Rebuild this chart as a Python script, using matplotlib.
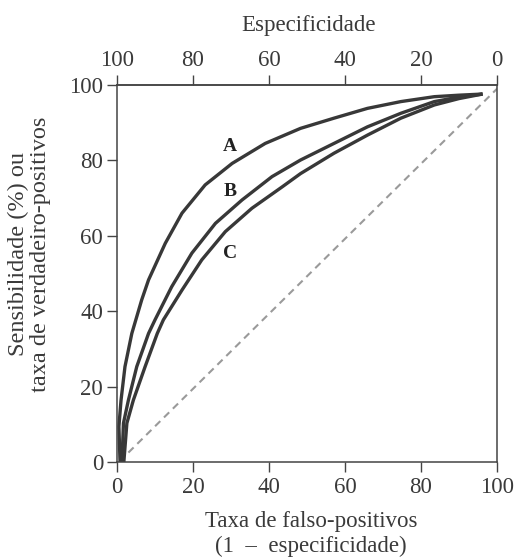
import matplotlib
matplotlib.use("Agg")
import matplotlib.pyplot as plt

# Curve data (x = false-positive rate %, y = sensitivity %)
a_x = [0.8, 0.5, 1.06, 2.1, 3.9, 6.5, 8.3, 12.7, 17.1, 23.2, 30.3, 39.0, 48.3, 57.1, 65.9, 74.7, 83.5, 90.0, 96.2]
a_y = [0.0, 9.4, 16.4, 25.3, 34.1, 43.0, 48.3, 58.0, 66.0, 73.5, 79.2, 84.5, 88.5, 91.2, 93.8, 95.6, 96.9, 97.3, 97.6]

b_x = [1.3, 1.7, 3.0, 5.2, 8.3, 10.0, 14.4, 19.7, 25.9, 32.9, 40.8, 48.3, 57.1, 65.9, 74.7, 83.5, 90.0, 96.2]
b_y = [0.0, 10.3, 16.4, 25.3, 34.1, 37.7, 46.5, 55.4, 63.3, 69.5, 75.7, 80.1, 84.5, 88.9, 92.5, 95.6, 96.8, 97.6]

c_x = [1.8, 2.6, 4.3, 7.4, 10.6, 12.2, 17.1, 22.3, 28.5, 35.5, 43.5, 48.3, 57.1, 65.9, 74.7, 83.5, 90.0, 96.2]
c_y = [0.0, 10.3, 16.4, 25.3, 34.1, 37.7, 45.6, 53.6, 61.1, 67.3, 73.0, 76.5, 81.9, 86.7, 91.2, 94.7, 96.4, 97.6]

diag_x = [3.0, 100.0]
diag_y = [2.5, 99.0]

curve_names = ["A", "B", "C"]
label_x = [29.8, 29.8, 29.8]
label_y = [83.6, 71.7, 55.4]

ticks = [0, 20, 40, 60, 80, 100]
top_ticks = [100, 80, 60, 40, 20, 0]

plt.rcParams["font.family"] = ["Liberation Serif", "DejaVu Serif"]

W, H = 519, 558
fig = plt.figure(figsize=(W / 100, H / 100), dpi=100)
ax = fig.add_axes([117 / W, 1 - 462 / H, 380 / W, 377 / H])

line_col = "#383838"
for xs, ys in [(a_x, a_y), (b_x, b_y), (c_x, c_y)]:
    ax.plot(xs, ys, color=line_col, lw=2.4, solid_capstyle="butt",
            solid_joinstyle="round")

ax.plot(diag_x, diag_y, color="#9a9a9a", lw=1.5, dashes=(3.5, 2.5))

for name, lx, ly in zip(curve_names, label_x, label_y):
    ax.text(lx, ly, name, fontsize=14, fontweight="bold", color="#222222",
            ha="center", va="center")

txt_col = "#3a3a3a"
fs = 16.5
ax.set_xlim(0, 100)
ax.set_ylim(0, 100)
ax.set_xticks(ticks)
ax.set_yticks(ticks)
ax.tick_params(axis="both", direction="out", length=7, width=1.0, color="#444444",
               labelsize=fs, labelcolor=txt_col)
ax.tick_params(axis="x", pad=4)
ax.tick_params(axis="y", pad=3)
for sp in ax.spines.values():
    sp.set_color("#444444")
    sp.set_linewidth(1.1)

sec = ax.secondary_xaxis("top", functions=(lambda x: 100 - x, lambda x: 100 - x))
sec.set_xticks(top_ticks)
sec.tick_params(direction="out", length=7, width=1.0, color="#444444",
                labelsize=fs, labelcolor=txt_col, pad=3)
sec.spines["top"].set_color("#444444")
sec.spines["top"].set_linewidth(1.1)

fig.text(309 / W, 1 - 25 / H, "Especificidade", fontsize=fs, color=txt_col,
         ha="center", va="center")
fig.text(311 / W, 1 - 522 / H, "Taxa de falso-positivos", fontsize=fs,
         color=txt_col, ha="center", va="center")
fig.text(311 / W, 1 - 546 / H, "(1  –  especificidade)", fontsize=fs,
         color=txt_col, ha="center", va="center")

fig.text(18 / W, 1 - 254 / H, "Sensibilidade (%) ou", rotation=90,
         fontsize=17.5, color=txt_col, ha="center", va="center")
fig.text(41 / W, 1 - 254 / H, "taxa de verdadeiro-positivos", rotation=90,
         fontsize=17.5, color=txt_col, ha="center", va="center")

fig.savefig("out.png", dpi=100)
